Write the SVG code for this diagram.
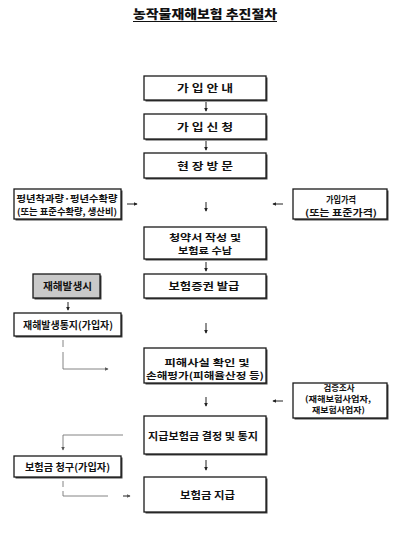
<svg xmlns="http://www.w3.org/2000/svg" width="400" height="535" viewBox="0 0 400 535">
<defs>
<style>
.box{fill:#fff;stroke:#1a1a1a;stroke-width:1.3}
.shadow{fill:#444}
.gray{fill:#c9c9c9}
text{font-family:"Noto Sans CJK KR","Noto Sans",sans-serif;font-weight:700;fill:#111;text-anchor:middle}
.t{font-size:10px}
.m{font-size:9.3px}
.s{font-size:9px}
.xs{font-size:8.3px}
.title{font-size:12.5px;font-weight:900}
.arr{stroke:#222;stroke-width:1;fill:none}
.con{stroke:#777;stroke-width:0.9;fill:none}
</style>
<marker id="ah" viewBox="0 0 6 6" refX="5" refY="3" markerWidth="4" markerHeight="4" markerUnits="userSpaceOnUse" orient="auto">
<path d="M0,0 L6,3 L0,6 Z" fill="#222"/>
</marker>
<marker id="ahg" viewBox="0 0 6 6" refX="5" refY="3" markerWidth="3.5" markerHeight="3.5" markerUnits="userSpaceOnUse" orient="auto">
<path d="M0,0 L6,3 L0,6 Z" fill="#555"/>
</marker>
</defs>
<rect width="400" height="535" fill="#fff"/>

<g id="title">
<text class="title" x="205" y="18.5" textLength="144" lengthAdjust="spacingAndGlyphs">농작물재해보험 추진절차</text>
<line x1="133" y1="21.5" x2="277" y2="21.5" stroke="#111" stroke-width="1.2"/>
</g>

<g id="n1">
<rect class="shadow" x="145.5" y="77.5" width="122" height="24"/>
<rect class="box" x="144" y="76" width="122" height="24"/>
<text class="t" x="205" y="92" textLength="56" lengthAdjust="spacingAndGlyphs">가 입 안 내</text>
</g>
<g id="n2">
<rect class="shadow" x="145.5" y="115.5" width="122" height="25"/>
<rect class="box" x="144" y="114" width="122" height="25"/>
<text class="t" x="205" y="130.5" textLength="56" lengthAdjust="spacingAndGlyphs">가 입 신 청</text>
</g>
<g id="n3">
<rect class="shadow" x="145.5" y="154.5" width="122" height="25"/>
<rect class="box" x="144" y="153" width="122" height="25"/>
<text class="t" x="205" y="169.5" textLength="56" lengthAdjust="spacingAndGlyphs">현 장 방 문</text>
</g>
<g id="n_yield">
<rect class="shadow" x="15.5" y="190.5" width="107" height="30"/>
<rect class="box" x="14" y="189" width="107" height="30"/>
<text class="s" x="67" y="202" textLength="101" lengthAdjust="spacingAndGlyphs">평년착과량·평년수확량</text>
<text class="s" x="67" y="215" textLength="100" lengthAdjust="spacingAndGlyphs">(또는 표준수확량, 생산비)</text>
</g>
<g id="n_price">
<rect class="shadow" x="294.5" y="190.5" width="94" height="30"/>
<rect class="box" x="293" y="189" width="94" height="30"/>
<text class="s" x="341" y="203" textLength="30" lengthAdjust="spacingAndGlyphs">가입가격</text>
<text class="s" x="341" y="216" textLength="72" lengthAdjust="spacingAndGlyphs">(또는 표준가격)</text>
</g>
<g id="n4">
<rect class="shadow" x="145.5" y="228.5" width="122" height="32"/>
<rect class="box" x="144" y="227" width="122" height="32"/>
<text class="m" x="205" y="241" textLength="72" lengthAdjust="spacingAndGlyphs">청약서 작성 및</text>
<text class="m" x="205" y="254" textLength="54" lengthAdjust="spacingAndGlyphs">보험료 수납</text>
</g>
<g id="n5">
<rect class="shadow" x="145.5" y="275.5" width="122" height="24"/>
<rect class="box" x="144" y="274" width="122" height="24"/>
<text class="t" x="204" y="290" textLength="71" lengthAdjust="spacingAndGlyphs">보험증권 발급</text>
</g>
<g id="n_disaster">
<rect class="shadow" x="34.5" y="275.5" width="67" height="24"/>
<rect class="box gray" x="33" y="274" width="67" height="24"/>
<text class="t" x="67.5" y="290" textLength="49" lengthAdjust="spacingAndGlyphs">재해발생시</text>
</g>
<g id="n_notify">
<rect class="shadow" x="15.5" y="314.5" width="107" height="23"/>
<rect class="box" x="14" y="313" width="107" height="23"/>
<text class="t" x="68" y="328.5" textLength="90" lengthAdjust="spacingAndGlyphs">재해발생통지(가입자)</text>
</g>
<g id="n6">
<rect class="shadow" x="145.5" y="349.5" width="122" height="35"/>
<rect class="box" x="144" y="348" width="122" height="35"/>
<text class="m" x="207" y="365.5" textLength="85" lengthAdjust="spacingAndGlyphs">피해사실 확인 및</text>
<text class="m" x="205" y="378.5" textLength="118" lengthAdjust="spacingAndGlyphs">손해평가(피해율산정 등)</text>
</g>
<g id="n_verify">
<rect class="shadow" x="294.5" y="384.5" width="94" height="35"/>
<rect class="box" x="293" y="383" width="94" height="35"/>
<text class="xs" x="339" y="391" textLength="31" lengthAdjust="spacingAndGlyphs">검증조사</text>
<text class="xs" x="338" y="402" textLength="66" lengthAdjust="spacingAndGlyphs">(재해보험사업자,</text>
<text class="xs" x="338.5" y="413" textLength="53" lengthAdjust="spacingAndGlyphs">재보험사업자)</text>
</g>
<g id="n7">
<rect class="shadow" x="145.5" y="417.5" width="122" height="38"/>
<rect class="box" x="144" y="416" width="122" height="38"/>
<text class="t" x="203" y="440" textLength="110" lengthAdjust="spacingAndGlyphs">지급보험금 결정 및 통지</text>
</g>
<g id="n_claim">
<rect class="shadow" x="15.5" y="457.5" width="107" height="21"/>
<rect class="box" x="14" y="456" width="107" height="21"/>
<text class="t" x="67.5" y="471" textLength="85" lengthAdjust="spacingAndGlyphs">보험금 청구(가입자)</text>
</g>
<g id="n8">
<rect class="shadow" x="145.5" y="478.5" width="122" height="35"/>
<rect class="box" x="144" y="477" width="122" height="35"/>
<text class="t" x="207.5" y="499" textLength="55" lengthAdjust="spacingAndGlyphs">보험금 지급</text>
</g>

<g id="connectors">
<line class="arr" x1="206" y1="102" x2="206" y2="111" marker-end="url(#ah)"/>
<line class="arr" x1="206" y1="141" x2="206" y2="150" marker-end="url(#ah)"/>
<line class="arr" x1="206" y1="202" x2="206" y2="211" marker-end="url(#ah)"/>
<line class="arr" x1="127" y1="204" x2="137" y2="204" marker-end="url(#ah)"/>
<line class="arr" x1="283" y1="204" x2="273" y2="204" marker-end="url(#ah)"/>
<line class="arr" x1="206" y1="262" x2="206" y2="271" marker-end="url(#ah)"/>
<line class="arr" x1="68" y1="302" x2="68" y2="310" marker-end="url(#ah)"/>
<line class="arr" x1="206" y1="323" x2="206" y2="333" marker-end="url(#ah)"/>
<line class="arr" x1="206" y1="397" x2="206" y2="406" marker-end="url(#ah)"/>
<line class="arr" x1="283" y1="401" x2="273" y2="401" marker-end="url(#ah)"/>
<line class="arr" x1="206" y1="460" x2="206" y2="470" marker-end="url(#ah)"/>
<line class="arr" x1="123" y1="496" x2="130" y2="496" marker-end="url(#ahg)"/>
<path class="con" d="M63,340 V347 M63,352 V369 H108" marker-end="url(#ahg)"/>
<path class="con" d="M123,435 H63 V450" marker-end="url(#ahg)"/>
<path class="con" d="M63,481 V487 M63,491 V496 H108"/>
</g>
</svg>
